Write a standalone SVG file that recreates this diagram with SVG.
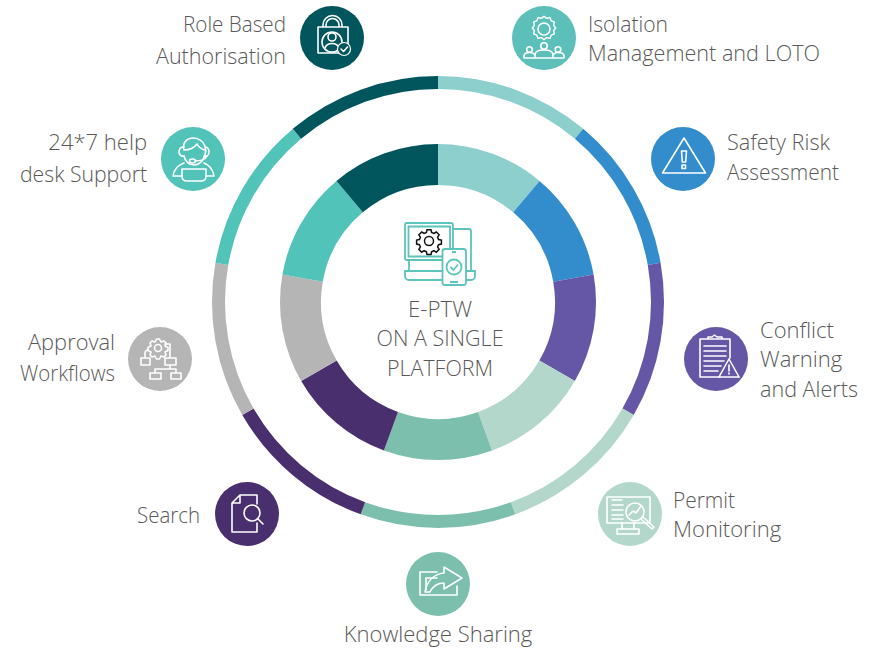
<svg xmlns="http://www.w3.org/2000/svg" width="869" height="650" viewBox="0 0 869 650">
<style>
text{font-family:"Open Sans","Noto Sans","Liberation Sans",sans-serif;font-weight:300;font-size:22px;fill:#595959}
.m{text-anchor:middle}.e{text-anchor:end}
.o,.i{fill:none}
.o{stroke-width:13}.i{stroke-width:41}
.ic{fill:none;stroke:#fff;stroke-width:1.600;stroke-linejoin:round;stroke-linecap:round}
.c{fill:none;stroke:#5cc4bb;stroke-width:1.800}
</style>
<rect width="869" height="650" fill="#fff"/>
<g id="connectors">
<g id="outer-ring">
<circle class="o" cx="438" cy="302" r="219.500" pathLength="9" stroke-dasharray="1 8" stroke="#8ccfcc" transform="rotate(-90 438 302)"/>
<circle class="o" cx="438" cy="302" r="219.500" pathLength="9" stroke-dasharray="1 8" stroke="#338ccb" transform="rotate(-50 438 302)"/>
<circle class="o" cx="438" cy="302" r="219.500" pathLength="9" stroke-dasharray="1 8" stroke="#6656a6" transform="rotate(-10 438 302)"/>
<circle class="o" cx="438" cy="302" r="219.500" pathLength="9" stroke-dasharray="1 8" stroke="#b3d8cb" transform="rotate(30 438 302)"/>
<circle class="o" cx="438" cy="302" r="219.500" pathLength="9" stroke-dasharray="1 8" stroke="#7cbfad" transform="rotate(70 438 302)"/>
<circle class="o" cx="438" cy="302" r="219.500" pathLength="9" stroke-dasharray="1 8" stroke="#4a2f6f" transform="rotate(110 438 302)"/>
<circle class="o" cx="438" cy="302" r="219.500" pathLength="9" stroke-dasharray="1 8" stroke="#b5b5b5" transform="rotate(150 438 302)"/>
<circle class="o" cx="438" cy="302" r="219.500" pathLength="9" stroke-dasharray="1 8" stroke="#52c3b9" transform="rotate(190 438 302)"/>
<circle class="o" cx="438" cy="302" r="219.500" pathLength="9" stroke-dasharray="1 8" stroke="#00565c" transform="rotate(230 438 302)"/>
</g>
<g id="inner-ring">
<circle class="i" cx="438" cy="302" r="137.500" pathLength="9" stroke-dasharray="1 8" stroke="#8ccfcc" transform="rotate(-90 438 302)"/>
<circle class="i" cx="438" cy="302" r="137.500" pathLength="9" stroke-dasharray="1 8" stroke="#338ccb" transform="rotate(-50 438 302)"/>
<circle class="i" cx="438" cy="302" r="137.500" pathLength="9" stroke-dasharray="1 8" stroke="#6656a6" transform="rotate(-10 438 302)"/>
<circle class="i" cx="438" cy="302" r="137.500" pathLength="9" stroke-dasharray="1 8" stroke="#b3d8cb" transform="rotate(30 438 302)"/>
<circle class="i" cx="438" cy="302" r="137.500" pathLength="9" stroke-dasharray="1 8" stroke="#7cbfad" transform="rotate(70 438 302)"/>
<circle class="i" cx="438" cy="302" r="137.500" pathLength="9" stroke-dasharray="1 8" stroke="#4a2f6f" transform="rotate(110 438 302)"/>
<circle class="i" cx="438" cy="302" r="137.500" pathLength="9" stroke-dasharray="1 8" stroke="#b5b5b5" transform="rotate(150 438 302)"/>
<circle class="i" cx="438" cy="302" r="137.500" pathLength="9" stroke-dasharray="1 8" stroke="#52c3b9" transform="rotate(190 438 302)"/>
<circle class="i" cx="438" cy="302" r="137.500" pathLength="9" stroke-dasharray="1 8" stroke="#00565c" transform="rotate(230 438 302)"/>
</g>
</g>
<g id="center">
<path class="c" d="M405 225a2 2 0 0 1 2-2h44a2 2 0 0 1 2 2v33a2 2 0 0 1-2 2h-44a2 2 0 0 1-2-2z"/>
<path class="c" d="M408.500 226.500h41.500v30h-41.500zM409 260v11M453 229h16a2 2 0 0 1 2 2v40M442 271h-37v5a4 4 0 0 0 4 4h33M466 271h9v5a4 4 0 0 1-4 4h-5"/>
<rect class="c" style="fill:#fff" x="442.500" y="249" width="23.500" height="36" rx="2.500"/>
<circle class="c" cx="454" cy="267" r="7.500"/>
<path class="c" d="M450.500 267l3 3 4.500-5.500M452 252h4M450 282h8"/>
<circle cx="429" cy="241" r="4.500" fill="none" stroke="#111" stroke-width="1.500"/>
<path d="M427 230h4l.6 2.800 2.300 1 2.400-1.500 2.800 2.800-1.500 2.400 1 2.300 2.800.6v4l-2.800.6-1 2.300 1.500 2.400-2.800 2.800-2.400-1.500-2.300 1-.6 2.800h-4l-.6-2.800-2.300-1-2.400 1.500-2.800-2.800 1.500-2.400-1-2.300-2.800-.6v-4l2.800-.6 1-2.300-1.500-2.400 2.800-2.800 2.400 1.500 2.300-1z" fill="none" stroke="#111" stroke-width="1.500" transform="translate(0 -.300)"/>
<text class="m" x="440" y="317" textLength="64" lengthAdjust="spacingAndGlyphs">E-PTW</text>
<text class="m" x="440" y="346" textLength="127" lengthAdjust="spacingAndGlyphs">ON A SINGLE</text>
<text class="m" x="440" y="376" textLength="106" lengthAdjust="spacingAndGlyphs">PLATFORM</text>
</g>
<g id="node-role">
<circle cx="332" cy="38" r="32" fill="#00565c"/>
<path class="ic" d="M318 27h30v26h-30zM323 27v-2a9.500 9.500 0 0 1 19 0v2M326 27v-2a6.500 6.500 0 0 1 13 0v2"/>
<circle class="ic" cx="332" cy="42" r="10"/><circle class="ic" cx="332" cy="37" r="4"/>
<path class="ic" d="M325 48c2-6 12-6 14 0"/>
<circle cx="344" cy="49" r="6.500" fill="#00565c" stroke="#fff" stroke-width="1.200"/>
<path class="ic" d="M341 49l2.500 2.500 4-4.500"/>
<text x="286" y="32" class="e" textLength="103" lengthAdjust="spacingAndGlyphs">Role Based</text>
<text x="286" y="64" class="e" textLength="130" lengthAdjust="spacingAndGlyphs">Authorisation</text>
</g>
<g id="node-isolation">
<circle cx="544" cy="38" r="32" fill="#5cbfb9"/>
<path class="ic" stroke-width="2" transform="translate(544 29) scale(.85) translate(-544 -33)" d="M544 18l3 2.500 4-1 1.500 3.800 3.800 1.500-1 4 2.500 3-2.500 3 1 4-3.800 1.500-1.500 3.800-4-1-3 2.500-3-2.500-4 1-1.500-3.800-3.800-1.500 1-4-2.500-3 2.500-3-1-4 3.800-1.500 1.500-3.800 4 1z"/>
<circle class="ic" cx="544" cy="29" r="6"/>
<circle class="ic" cx="544" cy="46" r="3.200"/><circle class="ic" cx="529.500" cy="49.500" r="2.800"/><circle class="ic" cx="558" cy="49.500" r="2.800"/>
<path class="ic" stroke-width="2" d="M524 58v-2c0-3 3-3.500 6-3.500 2 0 3 .5 4 1.500M564 58v-2c0-3-3-3.500-6-3.500-2 0-3 .5-4 1.500M535 58v-3c0-4 4-5 9-5s9 1 9 5v3M524 58h40"/>
<text x="588" y="32" textLength="80" lengthAdjust="spacingAndGlyphs">Isolation</text>
<text x="588" y="61" textLength="232" lengthAdjust="spacingAndGlyphs">Management and LOTO</text>
</g>
<g id="node-safety">
<circle cx="683" cy="159" r="32" fill="#338ccb"/>
<path class="ic" stroke-width="2" d="M684 138l21.500 35h-43z"/>
<path class="ic" d="M681.500 151h5l-.8 11h-3.400zM682 165h3.500v3.500h-3.500z"/>
<text x="727" y="150" textLength="103" lengthAdjust="spacingAndGlyphs">Safety Risk</text>
<text x="727" y="180" textLength="112" lengthAdjust="spacingAndGlyphs">Assessment</text>
</g>
<g id="node-conflict">
<circle cx="716" cy="359" r="32" fill="#6656a6"/>
<path class="ic" d="M730 358v-19h-30v38h20M708 339v-2h4l2.500-2 2.500 2h5v2zM704 346h22M704 351h22M704 356h22M704 361h20M704 366h17M704 371h14"/>
<path d="M729 359l10 18h-20z" fill="#6656a6" stroke="#fff" stroke-width="1.500"/>
<path class="ic" d="M729 365v6M729 373v1"/>
<text x="760" y="338">Conflict</text>
<text x="760" y="367">Warning</text>
<text x="760" y="397" textLength="98" lengthAdjust="spacingAndGlyphs">and Alerts</text>
</g>
<g id="node-permit">
<circle cx="630" cy="514" r="32" fill="#b3d8cb"/>
<path class="ic" d="M607 497h43v26h-43zM612 500h10M612 505h11M612 510h11M612 515h11M612 519h11M622 523v6M634 523v6M617 529h22v5h-22z"/>
<circle cx="635" cy="512" r="9" fill="#b3d8cb" stroke="#fff" stroke-width="1.600"/>
<path class="ic" d="M629 515l4-4 3 2 5-7M641 519l11 10 2-2-11-10"/>
<text x="673" y="508" textLength="62" lengthAdjust="spacingAndGlyphs">Permit</text>
<text x="673" y="537">Monitoring</text>
</g>
<g id="node-knowledge">
<circle cx="438" cy="584" r="32" fill="#7cbfad"/>
<path class="ic" stroke-width="2" d="M437 572h-17v23h37v-9M426 590v-12h11"/>
<path class="ic" stroke-width="2" d="M444 567l18 11-18 11v-6c-6 0-11 3-14 9h-5c2-11 9-18 19-19z"/>
<text class="m" x="438" y="642">Knowledge Sharing</text>
</g>
<g id="node-search">
<circle cx="247" cy="514" r="32" fill="#4a2f6f"/>
<path class="ic" d="M240 495h17v9M240 495l-8 8v29h25v-9M232 503h8v-8"/>
<circle class="ic" cx="252" cy="513" r="8"/>
<path class="ic" d="M258 519l5 5"/>
<text x="200" y="523" class="e" textLength="63" lengthAdjust="spacingAndGlyphs">Search</text>
</g>
<g id="node-approval">
<circle cx="160" cy="359" r="32" fill="#b5b5b5"/>
<path class="ic" stroke-width="1.200" d="M159.500 339l1.500 3 3-1 2 2-1 3 3 1.500v3l-3 1.500 1 3-2 2-3-1-1.500 3h-3l-1.500-3-3 1-2-2 1-3-3-1.500v-3l3-1.500-1-3 2-2 3 1 1.500-3z"/>
<circle class="ic" stroke-width="1.200" cx="158" cy="348" r="3.500"/>
<path class="ic" stroke-width="1.200" d="M141 358h9v7h-9zM165 358h11v7h-11zM150 373h11v6h-11zM171 373h10v6h-10zM170 365v4M155 369h21M155 369v4M176 369v4M145 358v-6l3-3M165 344h5v14"/>
<text x="115" y="350" class="e" textLength="87" lengthAdjust="spacingAndGlyphs">Approval</text>
<text x="115" y="381" class="e" textLength="95" lengthAdjust="spacingAndGlyphs">Workflows</text>
</g>
<g id="node-help">
<circle cx="193" cy="159" r="32" fill="#52c3b9"/>
<path class="ic" d="M184 150c-2-7 3-12 9-12 5 0 10 3 12 8 1 3 1 6 0 9-2 6-6 10-11 10-5 0-9-4-10-9M184 150c5 0 10-2 13-6 1 2 4 5 8 6"/>
<path class="ic" d="M184 147c-4 0-5 3-5 5s2 5 5 4M205 147c3 0 4 3 4 5 0 3-2 5-5 4"/>
<path class="ic" d="M207 156c-2 4-7 5-12 5"/>
<ellipse class="ic" cx="192.500" cy="161" rx="3" ry="2"/>
<path class="ic" d="M184 163c-6 2-10 6-11 13M204 163c5 2 9 6 10 13M173 176h9M206 176h8M182 169h24v7c0 3-2 5-5 5h-14c-3 0-5-2-5-5z"/>
<text x="147" y="150" class="e">24*7 help</text>
<text x="147" y="182" class="e" textLength="127" lengthAdjust="spacingAndGlyphs">desk Support</text>
</g>
</svg>
